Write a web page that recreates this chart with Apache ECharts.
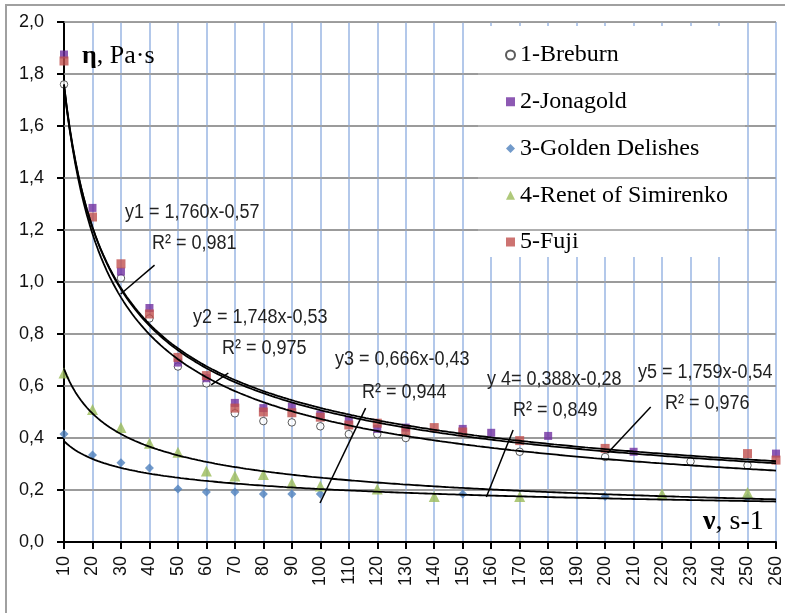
<!DOCTYPE html>
<html><head><meta charset="utf-8">
<script src="https://cdn.jsdelivr.net/npm/echarts@6/dist/echarts.min.js"></script>
<style>html,body{margin:0;padding:0;background:#fff}#c{width:785px;height:613px}</style>
</head><body><div id="c"></div>
<script>
// Shear rate categories (s-1)
const shearRates = [10,20,30,40,50,60,70,80,90,100,110,120,130,140,150,160,170,180,190,200,210,220,230,240,250,260];
const yTicks = [0,0.2,0.4,0.6,0.8,1.0,1.2,1.4,1.6,1.8,2.0];
// Viscosity values (Pa·s), null = no point
const breburn  = [1.76,null,1.015,0.86,0.675,0.61,0.495,0.465,0.46,0.445,0.415,0.415,0.40,null,null,null,0.347,null,null,0.327,null,null,0.31,null,0.295,null];
const jonagold = [1.875,1.285,1.04,0.90,0.69,0.63,0.535,0.515,0.52,0.49,0.47,0.435,0.44,null,0.435,0.42,null,0.408,null,null,0.347,null,null,null,null,0.34];
const golden   = [0.415,0.335,0.305,0.285,0.204,0.192,0.192,0.185,0.185,0.185,null,null,null,null,0.185,null,null,null,null,0.175,null,null,null,null,0.17,null];
const renet    = [0.65,0.51,0.44,0.38,0.345,0.273,0.254,0.26,0.227,0.215,null,0.204,null,0.175,null,null,0.175,null,null,null,null,0.185,null,null,0.19,null];
const fuji     = [1.85,1.25,1.07,0.877,0.71,0.64,0.515,0.50,0.497,0.48,0.45,0.457,0.427,0.44,0.423,null,0.39,null,null,0.36,null,null,null,null,0.34,0.315];
const seriesNames = ['1-Breburn','2-Jonagold','3-Golden Delishes','4-Renet of Simirenko','5-Fuji'];
// Power trend lines y = a·x^b (x = shear rate / 10), as printed on the chart
const trendNames = ['y1','y2','y3','y4','y5'];
const trendA = [1.760,1.748,0.666,0.388,1.759];
const trendB = [-0.57,-0.53,-0.43,-0.28,-0.54];
const trendLabels = ['y1 = 1,760x-0,57','y2 = 1,748x-0,53','y3 = 0,666x-0,43','y 4= 0,388x-0,28','y5 = 1,759x-0,54'];
const r2Labels = ['R² = 0,981','R² = 0,975','R² = 0,944','R² = 0,849','R² = 0,976'];
// Leader lines in data coordinates [v1,y1,v2,y2]
const leaders = [[41.8,1.065,29.9,0.954],[67.7,0.65,61.7,0.604],[115.9,0.515,99.9,0.15],[167.7,0.431,158.3,0.173],[216,0.519,200.9,0.342]];

function pairs(arr){ const out=[]; arr.forEach((v,i)=>{ if(v!==null) out.push([shearRates[i],v]); }); return out; }
function trend(k){ const out=[]; for(let v=shearRates[0]; v<=shearRates[shearRates.length-1]; v+=1){ out.push([v, trendA[k]*Math.pow(v/10,trendB[k])]); } return out; }
const xMin = shearRates[0], xMax = shearRates[shearRates.length-1];

const chart = echarts.init(document.getElementById('c'));
const series = [];
// horizontal gridlines (drawn above the legend's white backing, like the original)
yTicks.slice(1).forEach((v,i)=>{
 series.push({name:'grid'+i,type:'line',data:[[xMin,v],[xMax,v]],showSymbol:false,symbol:'none',silent:true,z:3,
  lineStyle:{color:'#959595',width:1.6},emphasis:{disabled:true}});
});
series.push(
 {name:seriesNames[0],type:'scatter',data:pairs(breburn),symbol:'circle',symbolSize:7.5,itemStyle:{color:'#ffffff',borderColor:'#333',borderWidth:1},z:4},
 {name:seriesNames[1],type:'scatter',data:pairs(jonagold),symbol:'rect',symbolSize:8,itemStyle:{color:'#7030a0'},z:5},
 {name:seriesNames[2],type:'scatter',data:pairs(golden),symbol:'diamond',symbolSize:9,itemStyle:{color:'#4f81bd'},z:6},
 {name:seriesNames[3],type:'scatter',data:pairs(renet),symbol:'triangle',symbolSize:11,itemStyle:{color:'#9bbb59'},z:7},
 {name:seriesNames[4],type:'scatter',data:pairs(fuji),symbol:'rect',symbolSize:9,itemStyle:{color:'#c0504d'},z:8}
);
trendNames.forEach((n,k)=>{
 const L = leaders[k];
 series.push({name:n,type:'line',data:trend(k),showSymbol:false,symbol:'none',silent:true,z:10,
  lineStyle:{color:'#000',width:1.8},
  markLine:{silent:true,symbol:['none','none'],animation:false,label:{show:false},z:10,
   lineStyle:{color:'#000',width:1.5,type:'solid'},
   data:[[{coord:[L[0],L[1]]},{coord:[L[2],L[3]]}]]}});
});

const eqPos = [[125,212,152,243],[193,317,222,348],[335,359,362,392],[487,379,513,410],[638,372,665,403]];
const elements = [
 {type:'rect',z:2,silent:true,shape:{x:478,y:26,width:267,height:231},style:{fill:'#ffffff'}},
 {type:'polyline',z:20,silent:true,shape:{points:[[6,613],[6,5],[785,5]]},style:{fill:null,stroke:'#a0a0a0',lineWidth:2}},
 {type:'text',z:20,x:82,y:56,style:{text:'{b|η}, Pa·s',font:'26px "Liberation Serif"',fill:'#000',verticalAlign:'middle',textVerticalAlign:'middle',
   rich:{b:{fontFamily:'Liberation Serif',fontSize:26,fontWeight:'bold'}}}},
 {type:'text',z:20,x:703,y:522,style:{text:'{b|ν}, s-1',font:'28px "Liberation Serif"',fill:'#000',verticalAlign:'middle',textVerticalAlign:'middle',
   rich:{b:{fontFamily:'Liberation Serif',fontSize:28,fontWeight:'bold'}}}}
];
eqPos.forEach((p,k)=>{
 elements.push({type:'text',z:20,x:p[0],y:p[1],scaleY:1.15,style:{text:trendLabels[k],font:'18px "Liberation Sans"',fill:'#222',verticalAlign:'middle',textVerticalAlign:'middle'}});
 elements.push({type:'text',z:20,x:p[2],y:p[3],scaleY:1.15,style:{text:r2Labels[k],font:'18px "Liberation Sans"',fill:'#222',verticalAlign:'middle',textVerticalAlign:'middle'}});
});

chart.setOption({
 animation:false,
 backgroundColor:'#ffffff',
 grid:{left:64,top:22,right:6,bottom:71,containLabel:false},
 legend:{data:seriesNames,orient:'vertical',left:500,top:38,itemGap:22.75,itemWidth:9,itemHeight:9,
   textStyle:{fontFamily:'Liberation Serif',fontSize:24,color:'#000',lineHeight:24},selectedMode:false,z:21},
 xAxis:{type:'value',min:xMin,max:xMax,interval:10,
   axisLine:{show:true,lineStyle:{color:'#000',width:2}},
   axisTick:{show:true,inside:false,length:7,lineStyle:{color:'#000',width:2}},
   axisLabel:{rotate:90,margin:14,fontFamily:'Liberation Sans',fontSize:18,color:'#111',showMinLabel:true,showMaxLabel:true},
   splitLine:{show:true,lineStyle:{color:'#b3c8ea',width:2}}},
 yAxis:{type:'value',min:yTicks[0],max:yTicks[yTicks.length-1],interval:0.2,
   axisLine:{show:true,lineStyle:{color:'#000',width:2}},
   axisTick:{show:true,inside:false,length:7,lineStyle:{color:'#000',width:2}},
   axisLabel:{margin:20,fontFamily:'Liberation Sans',fontSize:18,color:'#111',formatter:v=>v.toFixed(1).replace('.',',')},
   splitLine:{show:true,lineStyle:{color:'#959595',width:1.6}}},
 graphic:{elements:elements},
 series:series
});
</script></body></html>
